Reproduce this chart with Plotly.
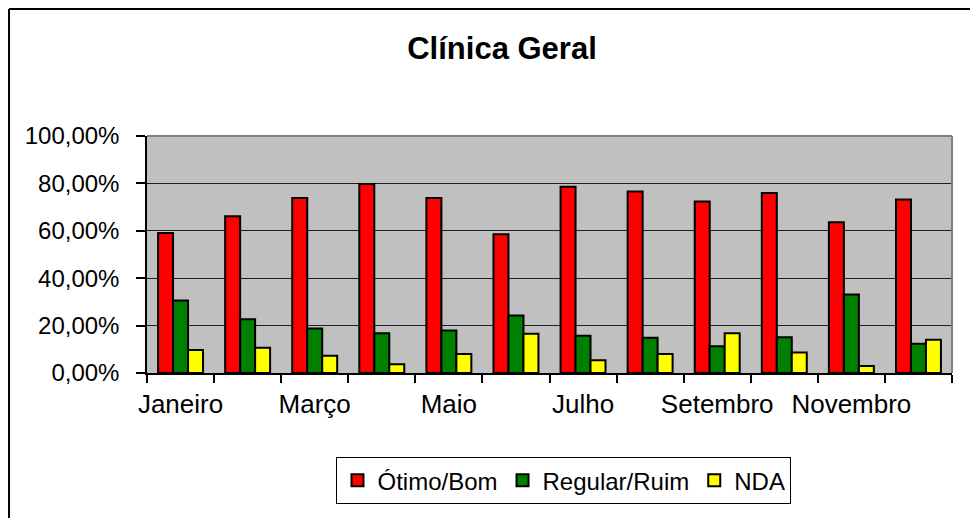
import plotly.graph_objects as go

months = ["Janeiro", "Fevereiro", "Março", "Abril", "Maio", "Junho",
          "Julho", "Agosto", "Setembro", "Outubro", "Novembro", "Dezembro"]
tick_labels = ["Janeiro", "", "Março", "", "Maio", "", "Julho", "",
               "Setembro", "", "Novembro", ""]
otimo_bom = [0.591, 0.661, 0.738, 0.797, 0.738, 0.585, 0.786, 0.766, 0.724, 0.760, 0.636, 0.732]
regular_ruim = [0.306, 0.227, 0.188, 0.168, 0.179, 0.243, 0.157, 0.149, 0.113, 0.151, 0.331, 0.123]
nda = [0.097, 0.107, 0.073, 0.037, 0.080, 0.166, 0.054, 0.080, 0.168, 0.086, 0.030, 0.140]

series = [("Ótimo/Bom", otimo_bom, "#FF0000"),
          ("Regular/Ruim", regular_ruim, "#008000"),
          ("NDA", nda, "#FFFF00")]

fig = go.Figure()
for name, vals, col in series:
    fig.add_trace(go.Bar(x=months, y=vals, name=name,
                         marker=dict(color=col, line=dict(color="black", width=2))))

font = "Liberation Sans, Arial, sans-serif"
W, H = 970, 510
fig.update_layout(
    width=W, height=H,
    margin=dict(l=139, r=26, t=128, b=145, pad=0),
    paper_bgcolor="white", plot_bgcolor="#C0C0C0",
    separators=",.",
    font=dict(family=font, color="black", size=24),
    title=dict(text="<b>Clínica Geral</b>", x=494 / W, xanchor="center",
               y=1 - 40 / H, yanchor="middle", font=dict(size=31, family=font, color="black")),
    barmode="group", bargap=0.33, bargroupgap=0,
    showlegend=True,
    legend=dict(orientation="h", x=0.518, xanchor="center", y=-0.355, yanchor="top",
                bordercolor="black", borderwidth=1, bgcolor="white",
                font=dict(size=24, family=font), itemwidth=30, traceorder="normal"),
    xaxis=dict(tickmode="array", tickvals=months, ticktext=tick_labels,
               tickson="boundaries", ticks="outside", ticklen=8, tickcolor="black",
               tickwidth=1.5, tickangle=0,
               showline=True, linecolor="black", linewidth=1.5,
               showgrid=False, tickfont=dict(size=26), ticklabelstandoff=7),
    yaxis=dict(range=[0, 1], tickvals=[0, 0.2, 0.4, 0.6, 0.8, 1.0],
               tickformat=".2%", ticks="outside", ticklen=9, tickcolor="black",
               tickwidth=1.5,
               showline=True, linecolor="black", linewidth=1.5,
               showgrid=True, gridcolor="#202020", gridwidth=1.2,
               zeroline=False, tickfont=dict(size=24), ticklabelstandoff=12),
    shapes=[
        dict(type="line", xref="paper", yref="paper", x0=0, x1=1, y0=1, y1=1,
             line=dict(color="#808080", width=2)),
        dict(type="line", xref="paper", yref="paper", x0=1, x1=1, y0=0, y1=1,
             line=dict(color="#808080", width=2)),
        # outer chart border (top and left edges)
        dict(type="line", xref="paper", yref="paper", x0=-0.1714, x1=1.05,
             y0=1.5359, y1=1.5359, line=dict(color="black", width=2)),
        dict(type="line", xref="paper", yref="paper", x0=-0.1714, x1=-0.1714,
             y0=-0.8, y1=1.5359, line=dict(color="black", width=2)),
    ],
)
fig.write_html("out.html")
